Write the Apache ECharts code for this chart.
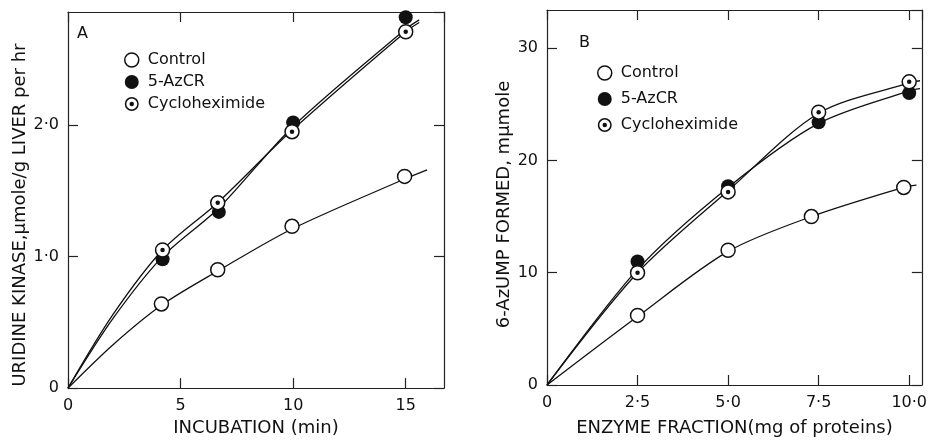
<!DOCTYPE html>
<html><head><meta charset="utf-8">
<script src="https://cdn.jsdelivr.net/npm/echarts@6/dist/echarts.min.js"></script>
<style>html,body{margin:0;padding:0;background:#fff}#c{width:930px;height:442px}</style>
</head><body><div id="c"></div>
<script>
// Panel A: uridine kinase vs incubation (min)
const aTicksX = [0, 5, 10, 15];
const aTicksY = ['0', '1·0', '2·0'];
const aControl = [[4.15, 0.64], [6.65, 0.90], [9.95, 1.23], [14.95, 1.61]];
const aAzCR = [[4.2, 0.98], [6.7, 1.34], [10.0, 2.02], [15.0, 2.82]];
const aCyclo = [[4.2, 1.05], [6.65, 1.41], [9.95, 1.95], [15.0, 2.71]];
const aCurveControl = [[0, 0], [2.0, 0.33], [4.15, 0.63], [6.65, 0.89], [9.95, 1.21], [14.95, 1.59], [15.95, 1.66]];
const aCurveAzCR = [[0, 0], [2.0, 0.53], [4.2, 1.0], [6.7, 1.37], [10.0, 1.99], [15.0, 2.73], [15.6, 2.80]];
const aCurveCyclo = [[0, 0], [2.0, 0.56], [4.2, 1.05], [6.65, 1.41], [9.95, 1.96], [15.0, 2.71], [15.6, 2.78]];
// Panel B: 6-AzUMP formed vs enzyme fraction (mg of proteins)
const bTicksX = ['0', '2·5', '5·0', '7·5', '10·0'];
const bTicksY = [0, 10, 20, 30];
const bControl = [[2.5, 6.2], [5.0, 12.0], [7.3, 15.0], [9.85, 17.6]];
const bAzCR = [[2.5, 11.0], [5.0, 17.7], [7.5, 23.4], [10.0, 26.0]];
const bCyclo = [[2.5, 10.0], [5.0, 17.2], [7.5, 24.3], [10.0, 27.0]];
const bCurveControl = [[0, 0], [2.5, 6.1], [5.0, 11.9], [7.3, 15.0], [9.85, 17.6], [10.2, 17.8]];
const bCurveAzCR = [[0, 0], [2.5, 10.3], [5.0, 17.6], [7.5, 23.3], [10.0, 26.2], [10.3, 26.4]];
const bCurveCyclo = [[0, 0], [2.5, 10.0], [5.0, 17.3], [7.5, 24.2], [10.0, 26.9], [10.3, 27.1]];
const seriesNames = ['Control', '5-AzCR', 'Cycloheximide'];

const FONT = 'DejaVu Sans';
const ringDot = 'path://M10,0A10,10 0 1 1 9.99,0ZM10,2.2A7.8,7.8 0 1 0 10.01,2.2ZM10,6.8A3.2,3.2 0 1 1 9.99,6.8Z';

const chart = echarts.init(document.getElementById('c'), null, {renderer: 'canvas'});
const axisLine = {show: true, onZero: false, lineStyle: {color: '#222', width: 1.2}};
const tick = {show: true, inside: true, length: 10, lineStyle: {color: '#222', width: 1.2}};
const lbl = {fontFamily: FONT, fontSize: 16, color: '#111'};

function xAx(grid, max, ticks, fmt, name, gap, top) {
  return {type: 'value', gridIndex: grid, min: 0, max: max, interval: ticks,
    position: top ? 'top' : 'bottom', axisLine: axisLine, axisTick: tick,
    splitLine: {show: false},
    axisLabel: top ? {show: false} : Object.assign({margin: 10, showMaxLabel: false, formatter: fmt}, lbl),
    name: top ? '' : name, nameLocation: 'middle', nameGap: gap,
    nameTextStyle: {fontFamily: FONT, fontSize: 18, color: '#111'}};
}
function yAx(grid, max, ticks, fmt, name, gap, right, pad) {
  return {type: 'value', gridIndex: grid, min: 0, max: max, interval: ticks,
    position: right ? 'right' : 'left', axisLine: axisLine, axisTick: tick,
    splitLine: {show: false},
    axisLabel: right ? {show: false} : Object.assign({margin: 9, showMaxLabel: false, formatter: fmt}, lbl),
    name: right ? '' : name, nameLocation: 'middle', nameGap: gap,
    nameTextStyle: {fontFamily: FONT, fontSize: 18, color: '#111', padding: pad}};
}

const fmtAY = v => { const i = Math.round(v); return aTicksY[i] !== undefined && Math.abs(v - i) < 1e-6 ? aTicksY[i] : ''; };
const fmtAX = v => aTicksX.indexOf(v) >= 0 ? String(v) : '';
const fmtBX = v => { const i = Math.round(v / 2.5); return bTicksX[i] || ''; };
const fmtBY = v => bTicksY.indexOf(v) >= 0 ? String(v) : '';

function curve(name, data, x, y) {
  return {name: name + ' fit', type: 'line', xAxisIndex: x, yAxisIndex: y, data: data,
    smooth: 0.3, showSymbol: false, symbol: 'none', silent: true,
    lineStyle: {color: '#111', width: 1.3}, z: 2};
}
function pts(name, data, x, y) {
  const base = {name: name, type: 'scatter', xAxisIndex: x, yAxisIndex: y, data: data, symbolSize: 14, z: 5};
  if (name === '5-AzCR') base.itemStyle = {color: '#111', borderColor: '#111', borderWidth: 0, opacity: 1};
  else base.itemStyle = {color: '#fff', borderColor: '#111', borderWidth: 1.5, opacity: 1};
  return base;
}
function dots(data, x, y) {
  return {name: 'cyclo-dot', type: 'scatter', xAxisIndex: x, yAxisIndex: y, data: data, symbolSize: 4.5,
    itemStyle: {color: '#111', opacity: 1}, z: 6, silent: true};
}
function legend(left, top, gap) {
  return {orient: 'vertical', left: left, top: top, itemWidth: 14, itemHeight: 14, itemGap: gap,
    selectedMode: false,
    textStyle: {fontFamily: FONT, fontSize: 16, color: '#111', padding: [0, 0, 0, 4]},
    data: [
      {name: seriesNames[0], icon: 'circle', itemStyle: {color: '#fff', borderColor: '#111', borderWidth: 1.5}},
      {name: seriesNames[1], icon: 'circle', itemStyle: {color: '#111', borderWidth: 0}},
      {name: seriesNames[2], icon: ringDot, itemStyle: {color: '#111', borderWidth: 0}}
    ]};
}

const option = {
  animation: false,
  backgroundColor: '#fff',
  grid: [
    {left: 68, top: 12, right: 930 - 444, bottom: 442 - 390},
    {left: 547, top: 10, right: 930 - 925, bottom: 442 - 388}
  ],
  xAxis: [
    xAx(0, 16.7, 5, fmtAX, 'INCUBATION (min)', 30, false),
    xAx(0, 16.7, 5, fmtAX, '', 0, true),
    xAx(1, 10.35, 2.5, fmtBX, 'ENZYME FRACTION(mg of proteins)', 34, false),
    xAx(1, 10.35, 2.5, fmtBX, '', 0, true)
  ],
  yAxis: [
    yAx(0, 2.86, 1, fmtAY, 'URIDINE KINASE,\u03bcmole/g LIVER per hr', 34, false, [0, 30, 0, 0]),
    yAx(0, 2.86, 1, fmtAY, '', 0, true),
    yAx(1, 33.4, 10, fmtBY, '6-AzUMP FORMED, m\u03bcmole', 33, false, [0, 14, 0, 0]),
    yAx(1, 33.4, 10, fmtBY, '', 0, true)
  ],
  legend: [legend(119, 47, 6), legend(592, 60, 10)],
  graphic: [
    {type: 'text', left: 77, top: 26, style: {text: 'A', font: '16px "DejaVu Sans"', fill: '#111'}},
    {type: 'text', left: 579, top: 35, style: {text: 'B', font: '16px "DejaVu Sans"', fill: '#111'}}
  ],
  series: [
    curve('Control', aCurveControl, 0, 0),
    curve('5-AzCR', aCurveAzCR, 0, 0),
    curve('Cycloheximide', aCurveCyclo, 0, 0),
    pts('Control', aControl, 0, 0),
    pts('5-AzCR', aAzCR, 0, 0),
    pts('Cycloheximide', aCyclo, 0, 0),
    dots(aCyclo, 0, 0),
    curve('Control', bCurveControl, 2, 2),
    curve('5-AzCR', bCurveAzCR, 2, 2),
    curve('Cycloheximide', bCurveCyclo, 2, 2),
    pts('Control', bControl, 2, 2),
    pts('5-AzCR', bAzCR, 2, 2),
    pts('Cycloheximide', bCyclo, 2, 2),
    dots(bCyclo, 2, 2)
  ]
};
chart.setOption(option);
</script></body></html>
